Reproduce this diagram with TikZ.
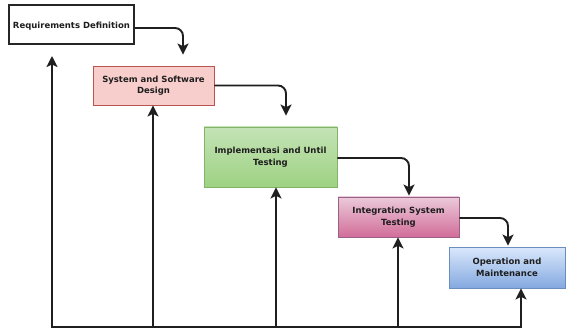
\documentclass[tikz,border=0pt]{standalone}
\usepackage{fontspec}
\setmainfont{DejaVu Sans}
\usetikzlibrary{arrows.meta}

\definecolor{txt}{HTML}{1E1E1E}
\definecolor{redfill}{HTML}{F8CECC}
\definecolor{redline}{HTML}{B85450}
\definecolor{greentop}{HTML}{C4E3B6}
\definecolor{greenbot}{HTML}{9ED283}
\definecolor{greenline}{HTML}{82B366}
\definecolor{pinktop}{HTML}{EBCADA}
\definecolor{pinkbot}{HTML}{D26D99}
\definecolor{pinkline}{HTML}{996185}
\definecolor{bluetop}{HTML}{DAE8FC}
\definecolor{bluebot}{HTML}{84A9E0}
\definecolor{blueline}{HTML}{6C8EBF}

\tikzset{
  phase/.style={rectangle, inner sep=0pt, align=center, text=txt,
    font=\fontsize{8.5pt}{11.5pt}\selectfont\bfseries, line width=0.8pt},
  flow/.style={draw=black!88, line width=1.9pt, rounded corners=8pt,
    -{Stealth[length=11pt,width=11pt,inset=2.5pt]}},
  back/.style={draw=black!88, line width=1.9pt,
    -{Stealth[length=11pt,width=11pt,inset=2.5pt]}},
}

\begin{document}
\begin{tikzpicture}[x=1pt,y=-1pt]
\useasboundingbox[fill=white] (0,0) rectangle (566,329);

% the five phases of the waterfall
\node[phase, draw=black!85, line width=2pt, fill=white,
      text height=8.5pt, text depth=0pt,
      minimum width=125pt, minimum height=39pt] (r1) at (71.5,24.5)
  {Requirements Definition};
\node[phase, draw=redline, fill=redfill,
      minimum width=121pt, minimum height=39pt] (r2) at (153.5,85.5)
  {System and Software\\Design};
\node[phase, draw=greenline, top color=greentop, bottom color=greenbot,
      minimum width=133pt, minimum height=60pt] (r3) at (270.5,157)
  {Implementasi and Until\\Testing};
\node[phase, draw=pinkline, top color=pinktop, bottom color=pinkbot,
      minimum width=121pt, minimum height=40pt] (r4) at (398.5,217)
  {Integration System\\Testing};
\node[phase, draw=blueline, top color=bluetop, bottom color=bluebot,
      minimum width=116pt, minimum height=41pt] (r5) at (507,267.5)
  {Operation and\\Maintenance};

% downward flow between phases
\draw[flow, shorten >=11pt] ([yshift=-3.5pt]r1.east) -| ([xshift=29.5pt]r2.north);
\draw[flow, shorten >=11pt] (r2.east) -| ([xshift=15.5pt]r3.north);
\draw[flow, shorten >=1pt] ([yshift=-1pt]r3.east) -| ([xshift=10.5pt]r4.north);
\draw[flow, shorten >=1pt] ([yshift=-1pt]r4.east) -| ([xshift=1pt]r5.north);

% feedback bus along the bottom
\coordinate (b1) at (52,327);
\coordinate (b2) at (153,327);
\coordinate (b3) at (276,327);
\coordinate (b4) at (398,327);
\coordinate (b5) at (521,327);
\draw[draw=black!88, line width=1.9pt, line cap=rect] (b1) -- (b5);

\draw[back, shorten >=11pt] (b1) -- (b1 |- r1.south);
\draw[back] (b2) -- (b2 |- r2.south);
\draw[back] (b3) -- (b3 |- r3.south);
\draw[back] (b4) -- (b4 |- r4.south);
\draw[back] (b5) -- (b5 |- r5.south);
\end{tikzpicture}
\end{document}
